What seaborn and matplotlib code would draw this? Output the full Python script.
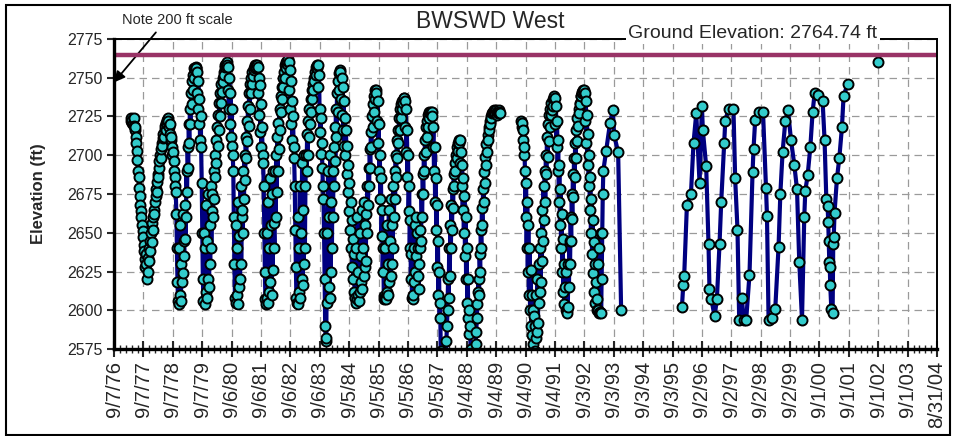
import datetime as dt
import numpy as np
import pandas as pd
import seaborn as sns
import matplotlib
matplotlib.use('Agg')
import matplotlib.pyplot as plt
import matplotlib.dates as mdates
from matplotlib.patches import Rectangle

# weekly water levels, Apr 1977 - Sep 1989 (ft)
seg_a_start = '1977-04-02'
seg_a = [
    2722, 2724, 2721, 2723, 2720, 2724, 2719, 2716, 2718, 2712, 2708,
    2703, 2697, 2690, 2686, 2679, 2674, 2668, 2664, 2660, 2655, 2651, 2647, 2642, 2638,
    2633, 2628, 2636, 2630, 2620, 2625, 2634, 2640, 2632, 2645, 2638, 2650, 2644, 2656,
    2652, 2660, 2665, 2662, 2670, 2674, 2678, 2676, 2683, 2688, 2686, 2692, 2696, 2700,
    2698, 2704, 2708, 2706, 2711, 2714, 2712, 2717, 2719, 2716, 2721, 2720, 2723,
    # 1978
    2724, 2722, 2718, 2720, 2714, 2710, 2712, 2705, 2700, 2702, 2696, 2690, 2686, 2680, 2676,
    2662, 2640, 2618, 2606,
    2604, 2640, 2610, 2655, 2606, 2630, 2618, 2662, 2624, 2645, 2635, 2668, 2646,
    2660, 2690, 2676, 2705, 2692, 2720, 2708, 2730, 2720, 2740, 2733, 2748, 2742, 2752,
    2750, 2756, 2755,
    # 1979
    2757, 2756, 2740, 2754, 2730, 2748, 2720, 2736, 2710, 2725,
    2705, 2682, 2650, 2620,
    2606, 2650, 2604, 2640, 2612, 2668, 2608, 2645, 2620, 2675, 2615, 2655, 2630, 2680,
    2640, 2664, 2675,
    2660, 2690, 2672, 2700, 2686, 2710, 2695, 2718, 2706, 2726, 2716, 2734, 2725, 2740,
    2734, 2746, 2741, 2750, 2747, 2754, 2752, 2757, 2758, 2759,
    # 1980
    2760, 2758, 2742, 2757, 2730, 2750, 2720, 2740, 2712, 2730, 2706, 2700,
    2690, 2660, 2630, 2608,
    2605, 2655, 2610, 2640, 2604, 2670, 2615, 2648, 2620, 2680, 2630, 2660, 2665,
    2650, 2690, 2672, 2700, 2684, 2712, 2698, 2722, 2709, 2732, 2719, 2740, 2730, 2746,
    2740, 2750, 2746, 2754, 2751, 2756, 2755, 2758, 2756, 2758, 2757,
    # 1981
    2758, 2757, 2740, 2750, 2726, 2745, 2715, 2733, 2705, 2718, 2700, 2695,
    2680, 2650, 2625, 2607,
    2604, 2650, 2608, 2670, 2605, 2640, 2612, 2685, 2618, 2655, 2610, 2675, 2626, 2690,
    2656,
    2640, 2690, 2660, 2700, 2676, 2712, 2690, 2721, 2704, 2730, 2716, 2738, 2728, 2744,
    2736, 2750, 2744, 2754, 2750, 2758, 2756, 2760, 2759, 2761,
    # 1982
    2762, 2760, 2742, 2755, 2730, 2748, 2720, 2735, 2710, 2725, 2705, 2698,
    2680, 2652, 2628, 2608,
    2605, 2660, 2604, 2640, 2612, 2680, 2608, 2650, 2620, 2695, 2616, 2665, 2630, 2700,
    2640, 2680, 2700,
    2690, 2714, 2700, 2722, 2712, 2730, 2720, 2736, 2728, 2742, 2736, 2746, 2742, 2750,
    2748, 2754, 2752, 2757, 2756, 2758,
    # 1983
    2758, 2744, 2752, 2730, 2715, 2724, 2701, 2708, 2692,
    2680, 2672, 2650, 2620, 2590, 2580,
    2582, 2650, 2605, 2690, 2615, 2660, 2608, 2700, 2625, 2670,
    2640, 2690, 2660, 2705, 2680, 2718, 2696, 2730, 2712, 2740, 2728, 2748, 2742, 2753,
    # 1984
    2755, 2754, 2736, 2750, 2726, 2744, 2716, 2735, 2706, 2724,
    2700, 2716, 2688, 2706, 2676, 2694, 2664, 2682, 2652, 2670, 2640, 2658, 2628, 2646,
    2620, 2636, 2612, 2608,
    2605, 2640, 2607, 2660, 2610, 2625, 2606, 2650, 2612, 2635, 2618, 2665, 2614, 2640,
    2622, 2670, 2628, 2655, 2632, 2662,
    2650, 2680, 2668, 2692, 2680, 2704, 2692, 2715, 2705, 2725, 2718, 2733, 2728, 2738,
    2736, 2742,
    # 1985
    2742, 2740, 2722, 2735, 2708, 2720, 2690, 2700,
    2672, 2685, 2648, 2665, 2625, 2640, 2609, 2607,
    2608, 2640, 2607, 2655, 2612, 2630, 2610, 2665, 2618, 2645, 2622, 2672, 2630, 2655,
    2640, 2680,
    2660, 2690, 2672, 2700, 2686, 2710, 2698, 2716, 2708, 2724, 2716, 2730, 2724, 2733,
    2730, 2735, 2734, 2737,
    # 1986
    2737, 2735, 2718, 2730, 2702, 2716, 2686, 2700,
    2664, 2680, 2640, 2658, 2620, 2636, 2608, 2607,
    2610, 2640, 2618, 2655, 2625, 2660, 2635, 2650, 2622, 2640, 2614, 2630, 2640, 2652,
    2645, 2675, 2660, 2688, 2675, 2700, 2690, 2710, 2702, 2718, 2712, 2722, 2718, 2726,
    2724, 2728, 2727, 2727, 2728,
    # 1987
    2728, 2725, 2705, 2718, 2690, 2705, 2670, 2685,
    2652, 2668, 2628, 2645, 2610, 2625, 2595, 2605, 2574, 2565,
    2555, 2548, 2545, 2550, 2556, 2560, 2565, 2572, 2580, 2590,
    2600, 2620, 2608, 2640, 2622, 2655, 2640, 2668, 2652, 2678, 2666, 2688, 2680, 2695,
    2690, 2700, 2698, 2705, 2703, 2708, 2710, 2708,
    # 1988
    2710, 2695, 2702, 2680, 2694, 2665, 2685, 2650, 2674, 2635, 2660, 2620,
    2640, 2605, 2620, 2595, 2600, 2585, 2590, 2575, 2566, 2558,
    2552, 2548, 2550, 2555, 2562, 2570, 2578, 2586, 2595, 2604, 2612, 2620,
    2610, 2636, 2625, 2652, 2640, 2666, 2655, 2678, 2670, 2689, 2682, 2699, 2694, 2707,
    2702, 2713, 2710, 2718, 2716, 2722, 2720, 2725, 2724, 2727, 2728, 2728, 2729, 2728,
    # 1989
    2728, 2727, 2729, 2728, 2726, 2728, 2727, 2729, 2728, 2727,
]

# weekly water levels, Jul 1990 - Apr 1993 (ft)
seg_b_start = '1990-07-10'
seg_b = [
    2722, 2718, 2721, 2710, 2716, 2700, 2705,
    2690, 2660, 2682, 2640, 2670, 2625, 2655, 2610, 2640, 2600, 2626, 2590, 2610, 2584,
    2600, 2578, 2596, 2574, 2590, 2582, 2610, 2586, 2620, 2592, 2630, 2605,
    2612, 2640, 2618, 2650, 2632, 2665, 2645, 2680, 2658, 2690, 2670, 2700, 2688, 2712,
    2699, 2720, 2709, 2726, 2718, 2730, 2726, 2734, 2729, 2736, 2732, 2737, 2738,
    2737, 2720, 2732, 2705, 2722, 2690, 2710, 2670, 2694, 2655, 2678, 2640, 2662, 2625,
    2646, 2612, 2630, 2604, 2615, 2600, 2625, 2600, 2598,
    2602, 2630, 2615, 2645, 2630, 2660, 2645, 2675, 2659, 2688, 2673, 2698, 2686, 2708,
    2698, 2716, 2709, 2724, 2719, 2730, 2727, 2734, 2733, 2738, 2738, 2740, 2741, 2742,
    2741, 2742,
    2740, 2722, 2735, 2708, 2726, 2694, 2714, 2680, 2700, 2665, 2686, 2650, 2672, 2636,
    2658, 2624, 2644, 2612, 2630, 2605, 2618, 2600, 2607, 2630, 2600, 2598, 2640, 2599,
    2650, 2598,
    2620, 2650, 2675, 2690,
]

# 1993 spot measurements (continue segment b)
dates_1993 = ['1993-06-01', '1993-07-20', '1993-08-23', '1993-09-08', '1993-10-28', '1993-12-04']
elev_1993 = [2703, 2721, 2729, 2713, 2702, 2600]

# 1995-2001 spot measurements
dates_9501 = [
    '1995-12-29', '1996-01-14', '1996-01-26', '1996-02-29', '1996-04-19', '1996-05-21',
    '1996-06-24', '1996-08-04', '1996-09-02', '1996-09-14', '1996-10-25', '1996-11-23',
    '1996-12-05', '1996-12-30', '1997-02-06', '1997-03-07', '1997-04-09', '1997-04-30',
    '1997-06-06', '1997-06-19', '1997-07-30', '1997-09-29', '1997-10-20', '1997-11-18',
    '1997-12-09', '1998-01-12', '1998-02-01', '1998-03-06', '1998-04-16', '1998-05-24',
    '1998-06-05', '1998-06-26', '1998-08-06', '1998-10-01', '1998-11-07', '1998-11-19',
    '1998-12-09', '1999-01-20', '1999-03-02', '1999-04-12', '1999-05-04', '1999-06-01',
    '1999-07-05', '1999-08-07', '1999-09-13', '1999-10-24', '1999-11-27', '1999-12-25',
    '2000-01-28', '2000-02-25', '2000-03-09', '2000-04-07', '2000-05-10', '2000-06-08',
    '2000-07-03', '2000-08-14', '2000-10-10', '2000-11-03', '2000-11-25', '2000-12-11',
    '2000-12-19', '2000-12-25', '2001-01-01', '2001-01-07', '2001-01-13', '2001-01-26',
    '2001-02-11', '2001-02-19', '2001-02-25', '2001-03-07', '2001-04-06', '2001-05-05',
    '2001-06-07', '2001-06-27', '2001-08-16',
]
elev_9501 = [
    2602, 2616, 2622, 2668, 2675, 2708,
    2727, 2682, 2732, 2716, 2693, 2643,
    2614, 2607, 2596, 2607, 2643, 2670,
    2708, 2722, 2730, 2730, 2685, 2652,
    2594, 2608, 2594, 2594, 2623, 2689,
    2704, 2723, 2728, 2728, 2679, 2661,
    2594, 2595, 2601, 2641, 2675, 2702,
    2722, 2729, 2710, 2694, 2678, 2631,
    2594, 2660, 2677, 2687, 2705, 2728,
    2740, 2739, 2735, 2710, 2672, 2667,
    2657, 2645, 2631, 2628, 2616, 2601,
    2598, 2643, 2647, 2663, 2685, 2698,
    2718, 2738, 2746,
]

dates_2002 = ['2002-08-29']
elev_2002 = [2760]

ground_elev = 2764.74
tick_labels = ['9/7/76', '9/7/77', '9/7/78', '9/7/79', '9/6/80', '9/6/81', '9/6/82',
               '9/6/83', '9/5/84', '9/5/85', '9/5/86', '9/5/87', '9/4/88', '9/4/89',
               '9/4/90', '9/4/91', '9/3/92', '9/3/93', '9/3/94', '9/3/95', '9/2/96',
               '9/2/97', '9/2/98', '9/2/99', '9/1/00', '9/1/01', '9/1/02', '9/1/03',
               '8/31/04']

# build one long table, one unit per unbroken run
parts = [
    pd.DataFrame({'date': pd.date_range(seg_a_start, periods=len(seg_a), freq='7D'),
                  'elev': seg_a, 'seg': 1}),
    pd.DataFrame({'date': pd.date_range(seg_b_start, periods=len(seg_b), freq='7D'),
                  'elev': seg_b, 'seg': 2}),
    pd.DataFrame({'date': pd.to_datetime(dates_1993), 'elev': elev_1993, 'seg': 2}),
    pd.DataFrame({'date': pd.to_datetime(dates_9501), 'elev': elev_9501, 'seg': 3}),
    pd.DataFrame({'date': pd.to_datetime(dates_2002), 'elev': elev_2002, 'seg': 4}),
]
df = pd.concat(parts, ignore_index=True)

sns.set_style('white')
plt.rcParams['font.family'] = ['Liberation Sans', 'DejaVu Sans']

fig = plt.figure(figsize=(9.55, 4.36), dpi=100)
ax = fig.add_axes([0.1194, 0.1995, 0.8618, 0.7111])

sns.lineplot(data=df, x='date', y='elev', units='seg', estimator=None, sort=False,
             color='#000080', lw=3, marker='o', ms=7.2, mfc='#33CCCC', mec='black',
             mew=1.4, ax=ax, zorder=3)

ax.axhline(ground_elev, color='#993366', lw=3.2, zorder=4)

# axes
start = dt.date(1976, 9, 7)
major = [start + dt.timedelta(days=365 * k) for k in range(len(tick_labels))]
minor = [start + dt.timedelta(days=73 * k) for k in range(5 * (len(tick_labels) - 1) + 1)]
ax.set_xlim(mdates.date2num(major[0]), mdates.date2num(major[-1]))
ax.set_xticks(mdates.date2num(major))
ax.set_xticklabels(tick_labels, rotation=90, fontsize=14.5)
ax.set_xticks(mdates.date2num(minor), minor=True)
ax.set_ylim(2575, 2775)
ax.set_yticks(np.arange(2575, 2776, 25))
ax.tick_params(axis='y', labelsize=11.5, direction='out', length=5, width=1.5, left=True, pad=3)
ax.tick_params(axis='x', which='major', direction='inout', length=11, width=1.5, bottom=True, pad=3)
ax.tick_params(axis='x', which='minor', direction='inout', length=6, width=1, bottom=True)
ax.grid(True, which='major', color='#9a9a9a', linestyle=(0, (6, 4)), lw=0.9)
ax.set_axisbelow(True)
ax.set_xlabel('')
ax.set_ylabel('Elevation (ft)', fontsize=12, fontweight='bold')
ax.yaxis.set_label_coords(-0.083, 0.5)

for side in ['left', 'bottom']:
    ax.spines[side].set_linewidth(2.4)
for side in ['top', 'right']:
    ax.spines[side].set_linewidth(1.4)
for s in ax.spines.values():
    s.set_color('black')
    s.set_zorder(5)

# titles and note
fig.text(490 / 955, 1 - 22 / 436, 'BWSWD West', ha='center', va='center', fontsize=16.5)
fig.text(753 / 955, 1 - 33 / 436, 'Ground Elevation: 2764.74 ft', ha='center', va='center',
         fontsize=14, zorder=10,
         bbox=dict(facecolor='white', edgecolor='none', pad=2))
ax.annotate('Note 200 ft scale', xy=(0, 2747), xycoords=('axes fraction', 'data'),
            xytext=(177 / 955, 1 - 20 / 436), textcoords='figure fraction',
            ha='center', va='center', fontsize=10.5, annotation_clip=False,
            arrowprops=dict(arrowstyle='-|>', color='black', lw=1.3, mutation_scale=16,
                            relpos=(0.35, 0.0), shrinkA=2, shrinkB=0))

fig.patches.append(Rectangle((6 / 955, 1 / 436), 944 / 955, 430 / 436, transform=fig.transFigure,
                             fill=False, edgecolor='black', lw=1.5))

fig.savefig('out.png', dpi=100)
